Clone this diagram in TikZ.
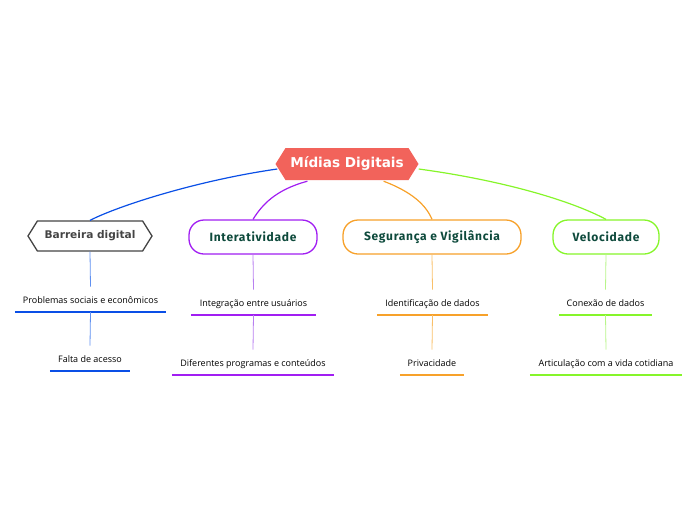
\documentclass[tikz,border=0pt]{standalone}
\usepackage{fontspec}
\setmainfont{Open Sans}
\newfontfamily\rootfont{DejaVu Sans}
\newfontfamily\mainfont[LetterSpace=6]{Fira Sans}
\usetikzlibrary{shapes.symbols}
\definecolor{rootred}{HTML}{F2635B}
\definecolor{cblue}{HTML}{0A4FE6}
\definecolor{lblue}{HTML}{6090F0}
\definecolor{cpurple}{HTML}{A11EF2}
\definecolor{lpurple}{HTML}{B880F0}
\definecolor{corange}{HTML}{F7A12A}
\definecolor{lorange}{HTML}{F9C06A}
\definecolor{cgreen}{HTML}{86F52A}
\definecolor{lgreen}{HTML}{B8F58A}
\definecolor{dgreen}{HTML}{0E4A3C}
\definecolor{dgray}{HTML}{444444}
\tikzset{
  hexbox/.style={signal, signal to=east and west, signal pointer angle=116, inner sep=0pt},
  rootbox/.style={hexbox, fill=rootred, text=white, font=\rootfont\bfseries\fontsize{13.6}{15}\selectfont, minimum width=143, minimum height=32},
  greybox/.style={hexbox, draw=dgray, line width=1.3pt, fill=white, text=dgray, font=\rootfont\bfseries\fontsize{10.6}{12}\selectfont, minimum width=124, minimum height=30},
  mainbox/.style={draw=#1, line width=1.3pt, rounded corners=15pt, fill=white, text=dgreen, font=\mainfont\bfseries\fontsize{12}{14}\selectfont, minimum height=34, inner sep=0pt},
  leaf/.style={anchor=south, inner xsep=0pt, inner ysep=0pt, text height=15pt, text depth=8pt, font=\fontsize{9}{11}\selectfont, text=black},
  uline/.style={draw=#1, line width=2pt},
  bconn/.style={draw=#1, line width=1.2pt},
  lconn/.style={draw=#1, line width=0.8pt},
}
\begin{document}
\begin{tikzpicture}[x=1pt,y=-1pt]
\useasboundingbox (0,0) rectangle (696,520);
% main nodes
\node[rootbox] (root) at (347,164) {\raisebox{-3.5pt}{Mídias Digitais}};
\node[greybox] (bd) at (90,236) {\raisebox{-2.5pt}{Barreira digital}};
\node[mainbox=cpurple, minimum width=128] (in) at (253,237) {\raisebox{-2.5pt}{Interatividade}};
\node[mainbox=corange, minimum width=178] (sv) at (432,237) {\raisebox{-2.5pt}{Segurança e Vigilância}};
\node[mainbox=cgreen, minimum width=106] (ve) at (606,237) {\raisebox{-2.5pt}{Velocidade}};
% connectors from root
\draw[bconn=cblue] (root.west) ++(2,5) coordinate (r1) .. controls (200,180) and (120,205) .. (bd.north);
\draw[bconn=cpurple] (root.south west) ++(22,1) coordinate (r2) .. controls (275,190) and (262,205) .. (in.north);
\draw[bconn=corange] (root.south east) ++(-25,1) coordinate (r3) .. controls (412,192) and (426,205) .. (sv.north);
\draw[bconn=cgreen] (root.east) ++(0,5) coordinate (r4) .. controls (500,180) and (570,200) .. (ve.north);
% leaves
\node[leaf, minimum width=151] (b1) at (90.5,312) {Problemas sociais e econômicos};
\node[leaf, minimum width=80] (b2) at (90,371) {Falta de acesso};
\node[leaf, minimum width=125] (i1) at (253.5,315) {Integração entre usuários};
\node[leaf, minimum width=162] (i2) at (253,375) {Diferentes programas e conteúdos};
\node[leaf, minimum width=111] (s1) at (432.5,315) {Identificação de dados};
\node[leaf, minimum width=64] (s2) at (432,375) {Privacidade};
\node[leaf, minimum width=93] (v1) at (605.5,315) {Conexão de dados};
\node[leaf, minimum width=152] (v2) at (606,375) {Articulação com a vida cotidiana};
% underlines
\foreach \n/\c in {b1/cblue,b2/cblue,i1/cpurple,i2/cpurple,s1/corange,s2/corange,v1/cgreen,v2/cgreen}
  \draw[uline=\c] (\n.south west) -- (\n.south east);
% vertical connectors
\draw[lconn=lblue] (bd.south) -- ([yshift=2]b1.north);
\draw[lconn=lblue] (b1.south) -- ([yshift=2]b2.north);
\draw[lconn=lpurple] (in.south) -- ([yshift=2]i1.north);
\draw[lconn=lpurple] (i1.south) -- ([yshift=2]i2.north);
\draw[lconn=lorange] (sv.south) -- ([yshift=2]s1.north);
\draw[lconn=lorange] (s1.south) -- ([yshift=2]s2.north);
\draw[lconn=lgreen] (ve.south) -- ([yshift=2]v1.north);
\draw[lconn=lgreen] (v1.south) -- ([yshift=2]v2.north);
\end{tikzpicture}
\end{document}
